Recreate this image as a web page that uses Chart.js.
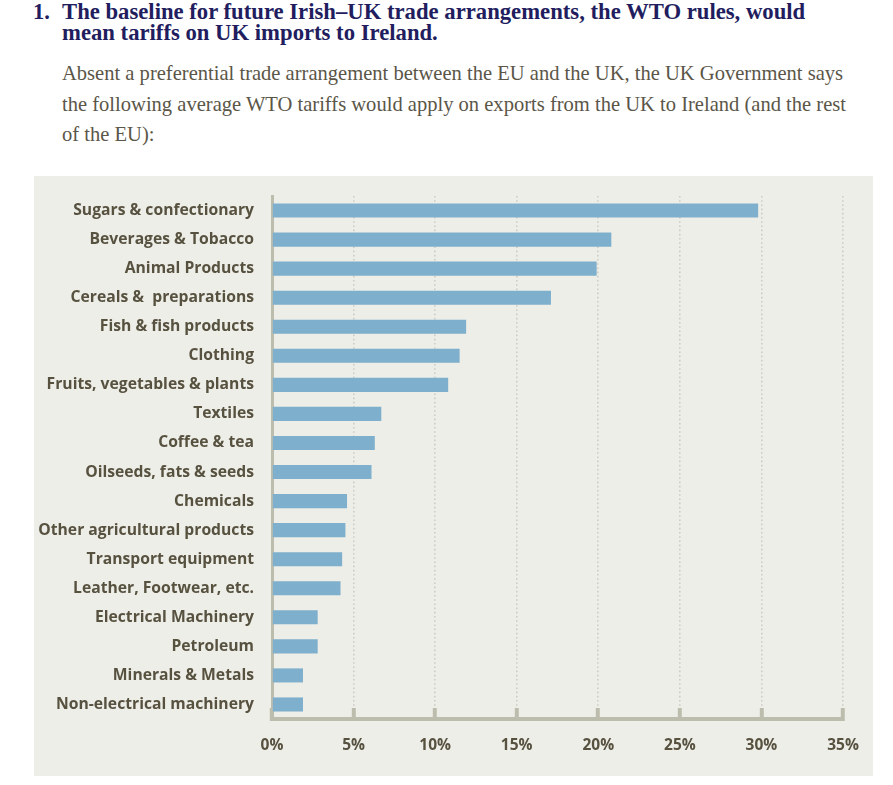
<!DOCTYPE html>
<html>
<head>
<meta charset="utf-8">
<script src="https://cdn.jsdelivr.net/npm/chart.js@4.4.1/dist/chart.umd.min.js"></script>
<style>
  html, body { margin:0; padding:0; background:#ffffff; }
  body { width:893px; height:785px; position:relative; overflow:hidden; }
  .num { position:absolute; left:33px; top:1px; font-family:"Liberation Serif", serif; font-weight:bold; font-size:22.5px; color:#221d5e; line-height:21px; }
  .title { position:absolute; left:62px; top:1px; width:830px; font-family:"Liberation Serif", serif; font-weight:bold; font-size:22.7px; color:#221d5e; line-height:21px; white-space:nowrap; }
  .body { position:absolute; left:62px; top:58px; width:830px; font-family:"Liberation Serif", serif; font-size:20.55px; color:#5b5648; line-height:30.5px; white-space:nowrap; }
  .panel { position:absolute; left:34px; top:176px; width:839px; height:600px; background:#eeeee8; }
</style>
</head>
<body>
<div class="num">1.</div>
<div class="title">The baseline for future Irish–UK trade arrangements, the WTO rules, would<br>mean tariffs on UK imports to Ireland.</div>
<div class="body">Absent a preferential trade arrangement between the EU and the UK, the UK Government says<br>the following average WTO tariffs would apply on exports from the UK to Ireland (and the rest<br>of the EU):</div>
<div class="panel"><canvas id="c" width="839" height="600"></canvas></div>
<script>
const categories = [
  "Sugars & confectionary",
  "Beverages & Tobacco",
  "Animal Products",
  "Cereals &  preparations",
  "Fish & fish products",
  "Clothing",
  "Fruits, vegetables & plants",
  "Textiles",
  "Coffee & tea",
  "Oilseeds, fats & seeds",
  "Chemicals",
  "Other agricultural products",
  "Transport equipment",
  "Leather, Footwear, etc.",
  "Electrical Machinery",
  "Petroleum",
  "Minerals & Metals",
  "Non-electrical machinery"
];
const tariffs = [29.8, 20.8, 19.9, 17.1, 11.9, 11.5, 10.8, 6.7, 6.3, 6.1, 4.6, 4.5, 4.3, 4.2, 2.8, 2.8, 1.9, 1.9];
const tickValues = [0, 5, 10, 15, 20, 25, 30, 35];

const labelColor = "#57513f";
const axisColor = "#bdbdae";

new Chart(document.getElementById("c"), {
  type: "bar",
  data: {
    labels: categories,
    datasets: [{
      data: tariffs,
      backgroundColor: "#7eafcc",
      borderWidth: 0,
      barPercentage: 0.97,
      categoryPercentage: 0.5
    }]
  },
  options: {
    indexAxis: "y",
    responsive: false,
    animation: false,
    devicePixelRatio: 1,
    layout: { padding: { top: 20, right: 30, bottom: 0, left: 0 } },
    plugins: { legend: { display: false }, tooltip: { enabled: false } },
    scales: {
      x: {
        min: 0, max: 35,
        afterBuildTicks: (s) => { s.ticks = tickValues.map(v => ({ value: v })); },
        afterFit: (s) => { s.height = 57; s.paddingLeft = 0; s.paddingRight = 0; },
        grid: {
          color: "#cdcdc8",
          lineWidth: 1.6,
          drawTicks: true,
          tickLength: -11,
          tickColor: axisColor,
          tickWidth: 4,
          tickBorderDash: []
        },
        border: { display: true, color: axisColor, width: 4, dash: [1.6, 2.6] },
        ticks: {
          padding: 28,
          color: labelColor,
          font: { family: "Open Sans", weight: "bold", size: 15.5 },
          callback: (v) => v + "%"
        }
      },
      y: {
        afterFit: (s) => { s.width = 238; s.paddingTop = 0; s.paddingBottom = 0; },
        grid: { display: false, drawTicks: false },
        border: { display: true, color: axisColor, width: 3 },
        ticks: {
          padding: 18,
          color: labelColor,
          font: { family: "Open Sans", weight: "bold", size: 15.7 }
        }
      }
    }
  }
});
</script>
</body>
</html>
